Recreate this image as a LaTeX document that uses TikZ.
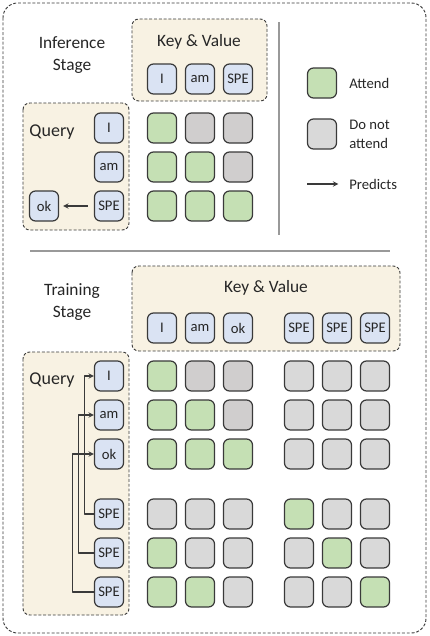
\documentclass[tikz,border=0pt]{standalone}
\usepackage{fontspec}
\setmainfont{Carlito}
\usetikzlibrary{arrows.meta}
\definecolor{tokblue}{HTML}{DAE3F3}
\definecolor{cellg}{HTML}{C5E0B4}
\definecolor{celld}{HTML}{D0CECE}
\definecolor{celll}{HTML}{D9D9D9}
\definecolor{panelbg}{HTML}{F8F2E3}
\definecolor{edge}{HTML}{3A3A3A}
\definecolor{ink}{HTML}{262626}
\begin{document}
\begin{tikzpicture}[x=0.75pt,y=-0.75pt,>=stealth,line join=round]
				\tikzset{
					box/.style={draw=edge,line width=0.9pt,rounded corners=4.5pt,
						minimum width=21.75pt,minimum height=22.5pt,inner sep=0pt},
					tok/.style={box,fill=tokblue,text=ink,font=\fontsize{11}{13}\selectfont},
					cell/.style={box,fill=cell#1},
					panel/.style={draw=edge,fill=panelbg,line width=0.7pt,
						dash pattern=on 2.2pt off 1.4pt,rounded corners=5pt},
					hd/.style={text=ink,align=center,font=\fontsize{13}{16.5}\selectfont},
					lg/.style={text=ink,anchor=west,align=left,inner sep=0pt,
						font=\fontsize{11}{14.25}\selectfont},
					sep/.style={draw=black!40,line width=0.8pt}
				}
				\useasboundingbox (0,0) rectangle (429,636);
				\draw[panel,fill=white,rounded corners=11pt] (3,3) rectangle (426,633);
				% inference stage
				\node[hd] (infhd) at (72,55) {Inference\\Stage};
				\draw[panel] (132,19) rectangle (267,101);
				\draw[panel] (23,103) rectangle (129,230);
				\node[hd] (ikv) at (199,42) {Key \& Value};
				\node[hd,font=\fontsize{13.5}{16}\selectfont] (iq) at (52,132) {Query};
				\foreach \x/\t [count=\c] in {162/I,200/am,238/SPE}{
					\node[tok] (ik\c) at (\x,79) {\t};
				}
				\foreach \y/\t [count=\r] in {128/I,167/am,206/SPE}{
					\node[tok] (iq\r) at (109,\y) {\t};
				}
				\node[tok] (iok) at (44,206) {ok};
				\draw[->,edge,line width=0.8pt,shorten <=4.5pt,shorten >=3pt] (iq3.west) -- (iok.east);
				\foreach \y [count=\r] in {128,167,206}{
					\foreach \x [count=\c] in {162,200,238}{
						\ifnum\c>\r
							\node[cell=d] (i\r\c) at (\x,\y) {};
						\else
							\node[cell=g] (i\r\c) at (\x,\y) {};
						\fi
					}
				}
				% legend
				\draw[sep] (279,22) -- (279,235);
				\node[cell=g] (lgg) at (322,83) {};
				\node[cell=l] (lgl) at (322,134) {};
				\node[lg] (lattend) at (349,83) {Attend};
				\node[lg] (lnot) at (349,134) {Do not\\attend};
				\coordinate (larr) at (307,184);
				\node[lg] (lpred) at (349,184) {Predicts};
				\draw[->,edge,line width=0.8pt,shorten >=8pt] (larr) -- (lpred.west);
				\draw[sep] (30,251) -- (390,251);
				% training stage
				\node[hd] (trhd) at (72,302) {Training\\Stage};
				\draw[panel] (132,266) rectangle (400,351);
				\draw[panel] (23,352) rectangle (129,615);
				\node[hd] (tkv) at (266,288) {Key \& Value};
				\node[hd,font=\fontsize{13.5}{16}\selectfont] (tq) at (52,380) {Query};
				\foreach \x/\t [count=\c] in {162/I,200/am,238/ok,299/SPE,337/SPE,375/SPE}{
					\node[tok] (tk\c) at (\x,328) {\t};
				}
				\foreach \y/\t [count=\r] in {376/I,415/am,454/ok,514/SPE,553/SPE,592/SPE}{
					\node[tok] (tq\r) at (109,\y) {\t};
				}
				\foreach \y/\row [count=\r] in {376/{g,d,d,l,l,l},415/{g,g,d,l,l,l},454/{g,g,g,l,l,l},
					514/{l,l,l,g,l,l},553/{g,l,l,l,g,l},592/{g,g,l,l,l,g}}{
					\foreach \col [count=\c] in \row{
						\pgfmathsetmacro\x{{162,200,238,299,337,375}[\c-1]}
						\node[cell=\col] (t\r\c) at (\x,\y) {};
					}
				}
				\draw[->,edge,line width=0.8pt] (tq4.west) -- ++(-9,0) |- (tq1.west);
				\draw[->,edge,line width=0.8pt] (tq5.west) -- ++(-15,0) |- (tq2.west);
				\draw[->,edge,line width=0.8pt] (tq6.west) -- ++(-21,0) |- (tq3.west);
			\end{tikzpicture}
\end{document}
